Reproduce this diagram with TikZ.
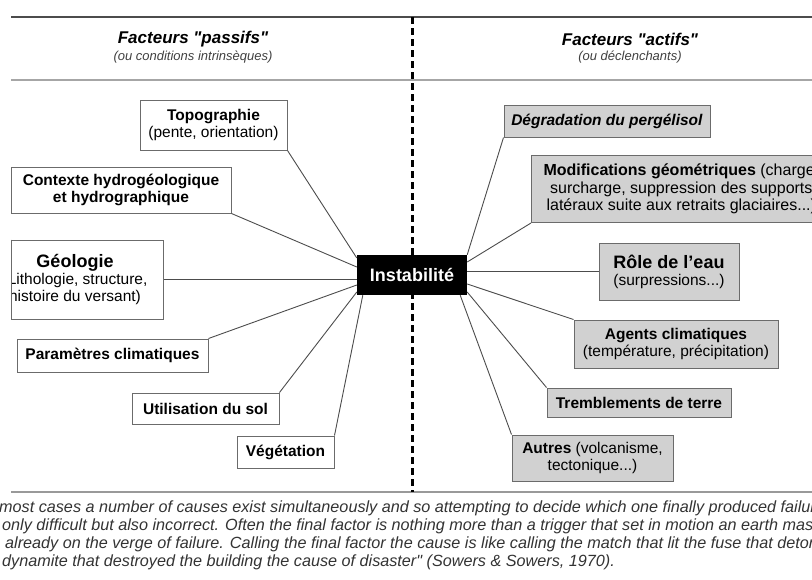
\documentclass[tikz,border=0pt]{standalone}
\usepackage{fontspec}
\setmainfont{Liberation Sans}[Ligatures=TeXOff]
\usetikzlibrary{calc}
\definecolor{trait}{gray}{0.3}
\definecolor{bord}{gray}{0.42}
\definecolor{fond}{gray}{0.82}

\begin{document}
\begin{tikzpicture}[x=1pt,y=-1pt,
    facteur/.style={draw=bord,line width=1pt,align=center,inner sep=0pt,
                    font=\fontsize{15.5}{17}\selectfont},
    passif/.style={facteur,fill=white},
    actif/.style={facteur,fill=fond},
    lien/.style={trait,line width=0.9pt},
    titre/.style={font=\fontsize{17}{19}\selectfont\bfseries\itshape},
    soustitre/.style={font=\fontsize{13}{15}\selectfont\itshape,text=black!75},
    citation/.style={anchor=base west,inner sep=0pt,text=black!80,
                     font=\fontsize{16.2}{18}\selectfont\itshape}]
  \useasboundingbox (0,0) rectangle (812,579);
  \clip (0,0) rectangle (812,579);

  % en-tetes
  \draw[black!70,line width=1.5pt] (11,17) -- (812,17);
  \draw[gray!70,line width=2.5pt] (11,80) -- (812,80);
  \draw[gray!80,line width=1.2pt] (11,492) -- (812,492);
  \draw[black,line width=3pt,dash pattern=on 7pt off 4pt] (412,17) -- (412,492);
  \node[titre]     (passifs)  at (193,39) {Facteurs "passifs"};
  \node[soustitre] (passifs2) at (193,57) {(ou conditions intrinsèques)};
  \node[titre]     (actifs)   at (630,39) {Facteurs "actifs"};
  \node[soustitre] (actifs2)  at (630,57) {(ou déclenchants)};

  % facteurs passifs
  \node[passif,minimum width=147pt,minimum height=50pt] (topo) at (213.5,125)
      {\textbf{Topographie}\\(pente, orientation)};
  \node[passif,minimum width=220pt,minimum height=46pt] (ctx) at (121,190)
      {\textbf{Contexte hydrogéologique}\\\textbf{et hydrographique}};
  \begin{scope}
    \clip (11,230) rectangle (170,330);
    \node[passif,minimum width=176pt,minimum height=79pt] (geo) at (75,279.5)
        {{\fontsize{18}{20}\selectfont\bfseries Géologie}\\(Lithologie, structure,\\histoire du versant)};
  \end{scope}
  \coordinate (bordg) at (11,0);
  \draw[bord,line width=1pt] (geo.north west -| bordg) -- (geo.south west -| bordg);
  \node[passif,minimum width=191pt,minimum height=33pt] (param) at (112.5,355.5)
      {\textbf{Paramètres climatiques}};
  \node[passif,minimum width=147pt,minimum height=31pt] (util) at (205.5,408.5)
      {\textbf{Utilisation du sol}};
  \node[passif,minimum width=97pt,minimum height=32pt] (veg) at (285.5,452)
      {\textbf{Végétation}};

  % facteurs actifs
  \node[actif,minimum width=206pt,minimum height=32pt] (degr) at (607,121)
      {\textbf{\textit{Dégradation du pergélisol}}};
  \node[actif,anchor=north west,minimum height=67pt,inner xsep=12pt,
        font=\fontsize{16}{17.5}\selectfont] (modif) at (531,155)
      {\textbf{Modifications géométriques} (charge,\\surcharge, suppression des supports\\latéraux suite aux retraits glaciaires...)};
  \node[actif,minimum width=140pt,minimum height=57pt] (role) at (669,271.5)
      {{\fontsize{18}{20}\selectfont\bfseries Rôle de l’eau}\\(surpressions...)};
  \node[actif,minimum width=204pt,minimum height=48pt] (agents) at (676,344)
      {\textbf{Agents climatiques}\\(température, précipitation)};
  \node[actif,minimum width=184pt,minimum height=29pt] (trembl) at (639,402.5)
      {\textbf{Tremblements de terre}};
  \node[actif,minimum width=161pt,minimum height=46pt] (autres) at (592.5,458)
      {\textbf{Autres} (volcanisme,\\tectonique...)};

  \node[fill=black,text=white,minimum width=110pt,minimum height=40pt,inner sep=0pt,
        font=\fontsize{18}{20}\selectfont\bfseries] (inst) at (412,275) {Instabilité};

  \draw[lien]
      ($(inst.west)+(0,-17)$)     edge (topo.south east)
      ($(inst.west)+(0,-8)$)      edge (ctx.south east)
      (geo.east -| inst.west)     edge (geo.east)
      ($(inst.west)+(0,10)$)      edge (param.north east)
      ($(inst.west)+(0,17)$)      edge (util.north east)
      ($(inst.south west)+(6,0)$) edge (veg.north east)
      (inst.north east)           edge (degr.south west)
      ($(inst.east)+(0,-13)$)     edge (modif.south west)
      (role.west -| inst.east)    edge (role.west)
      ($(inst.east)+(0,9)$)       edge (agents.north west)
      ($(inst.east)+(0,17)$)      edge (trembl.north west)
      ($(inst.south east)+(-7,0)$) edge (autres.north west);

  % citation
  \node[citation] (q1) at (-1,512) {most cases a number of causes exist simultaneously and so attempting to decide which one finally produced failure};
  \node[citation] (q2) at (2,530) {only difficult but also incorrect. Often the final factor is nothing more than a trigger that set in motion an earth mass};
  \node[citation] (q3) at (5,548) {already on the verge of failure. Calling the final factor the cause is like calling the match that lit the fuse that detonated};
  \node[citation] (q4) at (2,566) {dynamite that destroyed the building the cause of disaster" (Sowers \& Sowers, 1970).};
\end{tikzpicture}
\end{document}
